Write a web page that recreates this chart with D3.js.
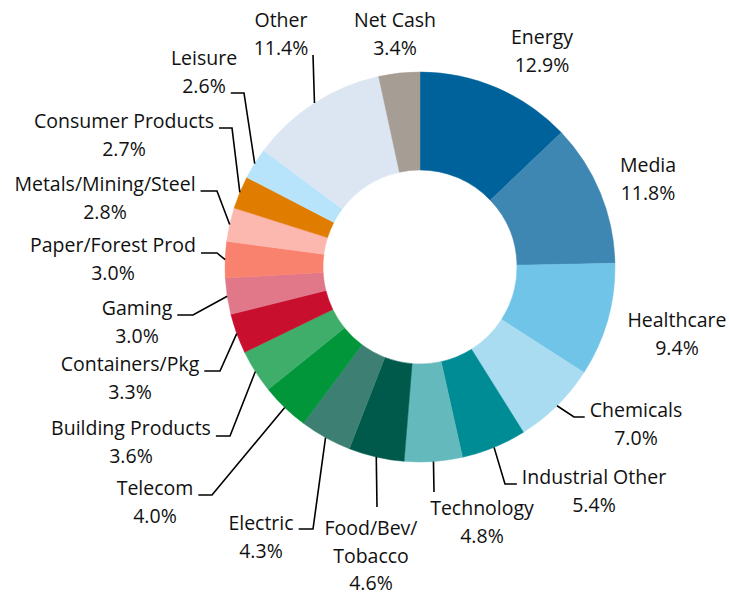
<!DOCTYPE html>
<html lang="en">
<head>
<meta charset="UTF-8"/>
<title>Sector allocation</title>
<script src="https://d3js.org/d3.v7.js"></script>
<style>
  body { margin: 0; background: #fff; }
  text { font-family: "Open Sans", "Noto Sans", sans-serif; fill: #111; }
</style>
</head>
<body>
<div id="chart"></div>
<script>
// sectors, clockwise from 12 o'clock
const sectors = ["Energy", "Media", "Healthcare", "Chemicals", "Industrial Other", "Technology",
  "Food/Bev/\nTobacco", "Electric", "Telecom", "Building Products", "Containers/Pkg", "Gaming",
  "Paper/Forest Prod", "Metals/Mining/Steel", "Consumer Products", "Leisure", "Other", "Net Cash"];
const weights = [12.9, 11.8, 9.4, 7.0, 5.4, 4.8, 4.6, 4.3, 4.0, 3.6, 3.3, 3.0, 3.0, 2.8, 2.7, 2.6, 11.4, 3.4];
const colors = ["#00629b", "#3e87b3", "#70c4e8", "#a9dcf1", "#008c95", "#64b9bd",
  "#005a4b", "#3d8073", "#009639", "#3fae6a", "#c8102e", "#e0788a",
  "#f9826f", "#fcb7af", "#e07c00", "#b7e4fb", "#dce6f2", "#a69d94"];

const width = 729, height = 597;
const cx = 420, cy = 267, outerR = 195, innerR = 97;
const lineH = 27.5;

// where each label sits (centre x, first baseline) and where its leader bends
const labelPos = {
  "Energy":              {x: 542, y: 44},
  "Media":               {x: 648, y: 172},
  "Healthcare":          {x: 677, y: 327},
  "Chemicals":           {x: 636, y: 417, ex: 574, ey: 417, side: "r"},
  "Industrial Other":    {x: 594, y: 484, ex: 505, ey: 484, side: "r"},
  "Technology":          {x: 482, y: 515, ex: 434, ey: 492},
  "Food/Bev/\nTobacco":  {x: 371, y: 535, ex: 377, ey: 507},
  "Electric":            {x: 261, y: 530, ex: 313, ey: 529, side: "l"},
  "Telecom":             {x: 155, y: 495, ex: 212, ey: 495, side: "l"},
  "Building Products":   {x: 131, y: 435, ex: 230, ey: 436, side: "l"},
  "Containers/Pkg":      {x: 130, y: 371, ex: 220, ey: 371, side: "l"},
  "Gaming":              {x: 137, y: 315, ex: 193, ey: 315, side: "l"},
  "Paper/Forest Prod":   {x: 113, y: 252, ex: 217, ey: 253, side: "l"},
  "Metals/Mining/Steel": {x: 105, y: 191, ex: 217, ey: 191, side: "l"},
  "Consumer Products":   {x: 124, y: 128, ex: 232, ey: 128, side: "l"},
  "Leisure":             {x: 204, y: 65, ex: 244, ey: 93, side: "l", row: 1},
  "Other":               {x: 281, y: 27, ex: 313, ey: 55},
  "Net Cash":            {x: 395, y: 27}
};

const svg = d3.select("#chart")
  .append("svg")
    .attr("width", width)
    .attr("height", height);

const g = svg.append("g")
    .attr("transform", `translate(${cx},${cy})`);

const data = sectors.map((s, i) => ({name: s, value: weights[i], color: colors[i]}));

const pie = d3.pie()
  .sort(null)
  .value(d => d.value);

const arc = d3.arc()
  .innerRadius(innerR)
  .outerRadius(outerR);

// zero-width arc on the rim, its centroid is where a leader starts
const rim = d3.arc()
  .innerRadius(outerR)
  .outerRadius(outerR);

const arcs = pie(data);

g.selectAll("path.slice")
  .data(arcs)
  .join("path")
    .attr("class", "slice")
    .attr("d", arc)
    .attr("fill", d => d.data.color)
    .attr("stroke", d => d.data.color)
    .attr("stroke-width", 0.5);

// labels
const labels = svg.append("g");

arcs.forEach(d => {
  const p = labelPos[d.data.name];
  const rows = d.data.name.split("\n").concat([d.data.value.toFixed(1) + "%"]);
  const t = labels.append("text")
    .attr("text-anchor", "middle")
    .style("font-size", "19.5px");
  rows.forEach((r, i) => {
    t.append("tspan")
      .attr("x", p.x)
      .attr("y", p.y + i * lineH)
      .text(r);
  });

  if (p.ex === undefined) return;

  const start = rim.centroid(d);
  const pts = [[start[0] + cx, start[1] + cy], [p.ex, p.ey]];
  if (p.side) {
    const w = t.selectAll("tspan").nodes()[p.row || 0].getComputedTextLength();
    const hx = p.side === "r" ? p.x - w / 2 - 5 : p.x + w / 2 + 5;
    pts.push([hx, p.ey]);
  }
  labels.append("path")
    .attr("d", d3.line()(pts))
    .attr("fill", "none")
    .attr("stroke", "#000")
    .attr("stroke-width", 1.6);
});
</script>
</body>
</html>
